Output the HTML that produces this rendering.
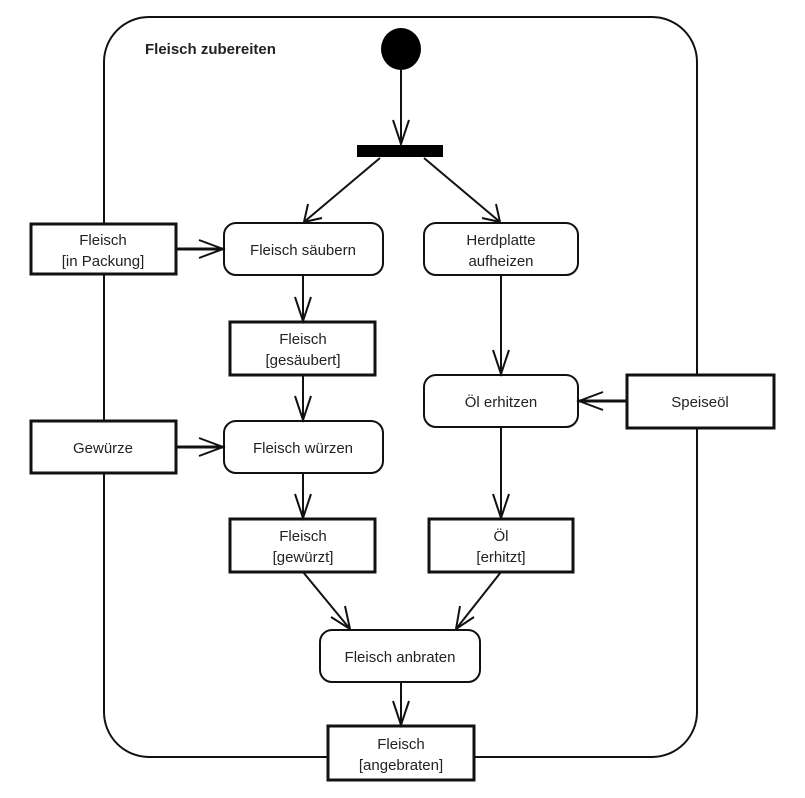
<!DOCTYPE html>
<html><head><meta charset="utf-8"><style>
body{margin:0;background:#fff}
svg text{font-family:"Liberation Sans",Arial,sans-serif;font-size:15px;fill:#222}
</style></head><body>
<svg width="805" height="793" viewBox="0 0 805 793" xmlns="http://www.w3.org/2000/svg">
<rect x="104" y="17" width="593" height="740" rx="45" fill="none" stroke="#111" stroke-width="2"/>
<text x="145" y="54" font-weight="bold">Fleisch zubereiten</text>
<ellipse cx="401" cy="49" rx="20" ry="21" fill="#000"/>
<rect x="357" y="145" width="86" height="12" fill="#000"/>
<g fill="#fff" stroke="#111" stroke-width="2">
<rect x="224" y="223" width="159" height="52" rx="12"/>
<rect x="424" y="223" width="154" height="52" rx="12"/>
<rect x="424" y="375" width="154" height="52" rx="12"/>
<rect x="224" y="421" width="159" height="52" rx="12"/>
<rect x="320" y="630" width="160" height="52" rx="12"/>
</g>
<g fill="#fff" stroke="#111" stroke-width="3">
<rect x="31" y="224" width="145" height="50"/>
<rect x="230" y="322" width="145" height="53"/>
<rect x="627" y="375" width="147" height="53"/>
<rect x="31" y="421" width="145" height="52"/>
<rect x="230" y="519" width="145" height="53"/>
<rect x="429" y="519" width="144" height="53"/>
<rect x="328" y="726" width="146" height="54"/>
</g>
<g stroke="#111" stroke-width="2" fill="none">
<line x1="401" y1="70" x2="401" y2="144"/><polyline points="393,120 401,144 409,120"/>
<line x1="380" y1="158" x2="304" y2="222"/><polyline points="308,204 304,222 322,218"/>
<line x1="424" y1="158" x2="500" y2="222"/><polyline points="482,218 500,222 496,204"/>
<line x1="176" y1="249" x2="223" y2="249" stroke-width="3"/><polyline points="199,240 223,249 199,258"/>
<line x1="303" y1="275" x2="303" y2="321"/><polyline points="295,297 303,321 311,297"/>
<line x1="501" y1="275" x2="501" y2="374"/><polyline points="493,350 501,374 509,350"/>
<line x1="627" y1="401" x2="579" y2="401" stroke-width="3"/><polyline points="603,392 579,401 603,410"/>
<line x1="303" y1="375" x2="303" y2="420"/><polyline points="295,396 303,420 311,396"/>
<line x1="176" y1="447" x2="223" y2="447" stroke-width="3"/><polyline points="199,438 223,447 199,456"/>
<line x1="303" y1="473" x2="303" y2="518"/><polyline points="295,494 303,518 311,494"/>
<line x1="501" y1="427" x2="501" y2="518"/><polyline points="493,494 501,518 509,494"/>
<line x1="303" y1="572" x2="350" y2="629"/><polyline points="331,617 350,629 345,606"/>
<line x1="501" y1="572" x2="456" y2="629"/><polyline points="460,606 456,629 474,617"/>
<line x1="401" y1="682" x2="401" y2="725"/><polyline points="393,701 401,725 409,701"/>
</g>
<g text-anchor="middle">
<text x="103" y="245">Fleisch</text><text x="103" y="266">[in Packung]</text>
<text x="303" y="255">Fleisch säubern</text>
<text x="501" y="245">Herdplatte</text><text x="501" y="266">aufheizen</text>
<text x="303" y="344">Fleisch</text><text x="303" y="365">[gesäubert]</text>
<text x="501" y="407">Öl erhitzen</text>
<text x="700" y="407">Speiseöl</text>
<text x="103" y="453">Gewürze</text>
<text x="303" y="453">Fleisch würzen</text>
<text x="303" y="541">Fleisch</text><text x="303" y="562">[gewürzt]</text>
<text x="501" y="541">Öl</text><text x="501" y="562">[erhitzt]</text>
<text x="400" y="662">Fleisch anbraten</text>
<text x="401" y="749">Fleisch</text><text x="401" y="770">[angebraten]</text>
</g>
</svg>
</body></html>
